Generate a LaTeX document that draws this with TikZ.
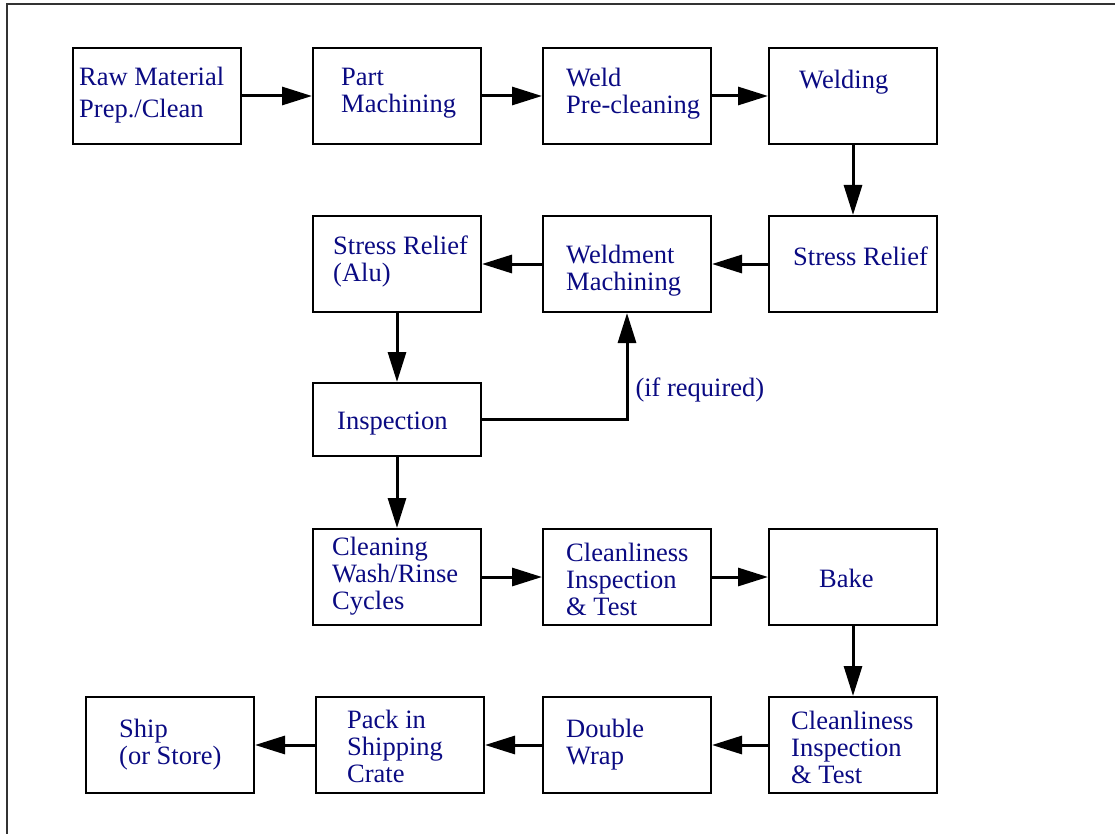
\documentclass[tikz,border=0pt]{standalone}
\usepackage{fontspec}
\setmainfont{Liberation Serif}
\usetikzlibrary{%
    arrows.meta,%
    positioning,%
    calc%
}
\definecolor{labelblue}{RGB}{10,10,130}
\tikzset{
    block/.style = {draw, rectangle, line width=2pt, minimum width=168pt,
    minimum height=96pt, inner sep=0pt},
    txt/.style = {align=left, anchor=west, text=labelblue, inner sep=0pt,
    font=\fontsize{26.5}{27}\selectfont},
    arr/.style = {line width=3pt, -{Triangle[length=30pt,width=18pt]}}
}

\begin{document}
\begin{tikzpicture}[x=1pt, y=-1pt]
    \useasboundingbox (0,0) rectangle (1115,834);
    \draw[line width=2pt, black!80] (7,834) -- (7,4) -- (1115,4);

    % row 1
    \node[block] (raw) at (157,96) {};
    \node[block] (part) at (397,96) {};
    \node[block] (weld) at (627,96) {};
    \node[block] (welding) at (853,96) {};
    % row 2
    \node[block] (reliefalu) at (397,264) {};
    \node[block] (weldment) at (627,264) {};
    \node[block] (relief) at (853,264) {};
    % row 3
    \node[block, minimum height=73pt] (insp) at (397,419.5) {};
    % row 4
    \node[block] (clean) at (397,577) {};
    \node[block] (cleantest) at (627,577) {};
    \node[block] (bake) at (853,577) {};
    % row 5
    \node[block] (ship) at (170,745) {};
    \node[block] (pack) at (400,745) {};
    \node[block] (wrap) at (627,745) {};
    \node[block] (cleantestb) at (853,745) {};

    % texts
    \node[txt, font=\fontsize{26.5}{32}\selectfont] (rawT) at ($(raw.west)+(7,-1)$) {Raw Material\\Prep./Clean};
    \node[txt] (partT) at ($(part.west)+(29,-3)$) {Part\\Machining};
    \node[txt] (weldT) at ($(weld.west)+(24,-2)$) {Weld\\Pre-cleaning};
    \node[txt] (weldingT) at ($(welding.west)+(31,-14)$) {Welding};
    \node[txt] (reliefaluT) at ($(reliefalu.west)+(21,-3)$) {Stress Relief\\(Alu)};
    \node[txt] (weldmentT) at ($(weldment.west)+(24,7)$) {Weldment\\Machining};
    \node[txt] (reliefT) at ($(relief.west)+(25,-8)$) {Stress Relief};
    \node[txt] (inspT) at ($(insp.west)+(25,4)$) {Inspection};
    \node[txt] (cleanT) at ($(clean.west)+(20,-1)$) {Cleaning\\Wash/Rinse\\Cycles};
    \node[txt] (cleantestT) at ($(cleantest.west)+(24,2)$) {Cleanliness\\Inspection\\\& Test};
    \node[txt] (bakeT) at ($(bake.west)+(51,1)$) {Bake};
    \node[txt] (shipT) at ($(ship.west)+(34,0)$) {Ship\\(or Store)};
    \node[txt] (packT) at ($(pack.west)+(32,1)$) {Pack in\\Shipping\\Crate};
    \node[txt] (wrapT) at ($(wrap.west)+(24,0)$) {Double\\Wrap};
    \node[txt] (cleantestbT) at ($(cleantestb.west)+(23,2)$) {Cleanliness\\Inspection\\\& Test};

    % arrows
    \draw[arr] (raw.east) -- (part.west);
    \draw[arr] (part.east) -- (weld.west);
    \draw[arr] (weld.east) -- (welding.west);
    \draw[arr] (welding.south) -- (relief.north);
    \draw[arr] (relief.west) -- (weldment.east);
    \draw[arr] (weldment.west) -- (reliefalu.east);
    \draw[arr] (reliefalu.south) -- (insp.north);
    \draw[arr] (insp.east) -| node[txt, pos=0.64, right=7pt] (cond) {(if required)} (weldment.south);
    \draw[arr] (insp.south) -- (clean.north);
    \draw[arr] (clean.east) -- (cleantest.west);
    \draw[arr] (cleantest.east) -- (bake.west);
    \draw[arr] (bake.south) -- (cleantestb.north);
    \draw[arr] (cleantestb.west) -- (wrap.east);
    \draw[arr] (wrap.west) -- (pack.east);
    \draw[arr] (pack.west) -- (ship.east);

\end{tikzpicture}
\end{document}
